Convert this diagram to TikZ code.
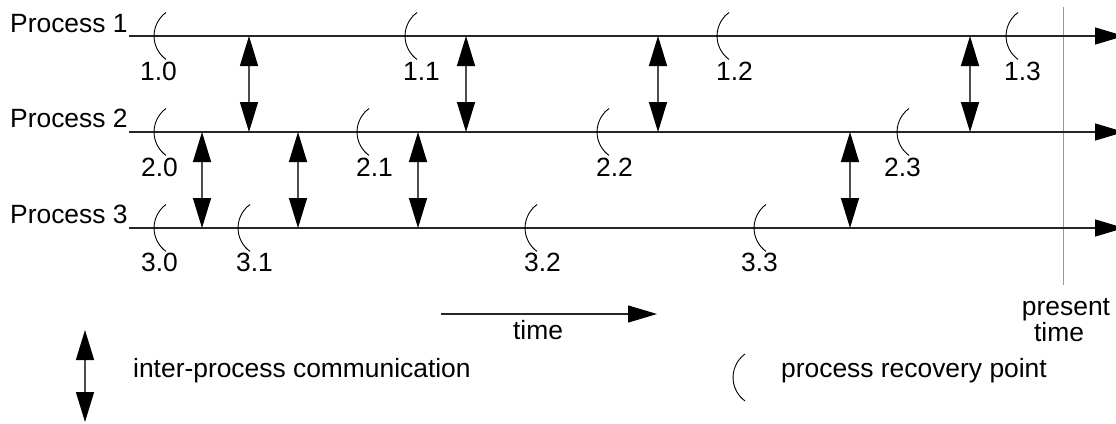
\documentclass[tikz,border=0pt]{standalone}
\usepackage{fontspec}
\setmainfont{Liberation Sans}
\usetikzlibrary{arrows.meta}
\begin{document}
\begin{tikzpicture}[x=1pt,y=-1pt,
  txt/.style={font=\fontsize{26.4}{30}\selectfont, inner sep=0pt, anchor=base west},
  ctxt/.style={font=\fontsize{26.4}{30}\selectfont, inner sep=0pt, anchor=base},
  pline/.style={line width=1.2pt, draw=black!85, -{Triangle[length=29pt,width=17pt,color=black]}},
  comm/.style={line width=1.4pt, draw=black!70, {Triangle[length=30pt,width=18pt,color=black]}-{Triangle[length=30pt,width=18pt,color=black]}},
  rp/.style={line width=0.9pt, draw=black},
  nowline/.style={line width=1pt, draw=black!40}]
\useasboundingbox (0,0) rectangle (1116,423);

% present time line
\coordinate (nowtop) at (1063,7);
\coordinate (nowbot) at (1063,285);
\draw[nowline] (nowtop) -- (nowbot);

% process lines
\node[txt] (p1) at (10,32) {Process 1};
\node[txt] (p2) at (10,127) {Process 2};
\node[txt] (p3) at (10,223) {Process 3};
\coordinate (p1s) at (129,36);  \coordinate (p1e) at (1124,36);
\coordinate (p2s) at (129,132); \coordinate (p2e) at (1124,132);
\coordinate (p3s) at (129,228); \coordinate (p3e) at (1124,228);
\draw[pline] (p1s) -- (p1e);
\draw[pline] (p2s) -- (p2e);
\draw[pline] (p3s) -- (p3e);

% recovery points
\foreach \L/\y in {154/36, 405/36, 717/36, 1006/36,
                   154/132, 357/132, 597/132, 897/132,
                   154/228, 238/228, 525/228, 754/228, 733/377.5}
  \draw[rp] (\L+12,\y-23.5) arc[start angle=234,end angle=126,radius=29];

% recovery point labels
\node[txt] (r10) at (140,80) {1.0};
\node[txt] (r11) at (403,80) {1.1};
\node[txt] (r12) at (716,80) {1.2};
\node[txt] (r13) at (1004,80) {1.3};
\node[txt] (r20) at (141,176) {2.0};
\node[txt] (r21) at (356,176) {2.1};
\node[txt] (r22) at (596,176) {2.2};
\node[txt] (r23) at (884,176) {2.3};
\node[txt] (r30) at (141,271) {3.0};
\node[txt] (r31) at (236,271) {3.1};
\node[txt] (r32) at (524,271) {3.2};
\node[txt] (r33) at (741,271) {3.3};

% communications P1-P2
\foreach \x [count=\i] in {249,466,658,970}{
  \coordinate (a\i t) at (\x,36);
  \coordinate (a\i b) at (\x,132);
  \draw[comm] (a\i t) -- (a\i b);
}
% communications P2-P3
\foreach \x [count=\i] in {202,298,418,850}{
  \coordinate (b\i t) at (\x,132);
  \coordinate (b\i b) at (\x,228);
  \draw[comm] (b\i t) -- (b\i b);
}

% time arrow
\coordinate (ts) at (441,314);
\coordinate (te) at (657,314);
\draw[pline] (ts) -- (te);
\node[ctxt] (tlabel) at (538,339) {time};

% present time label
\node[ctxt] (pres) at (1066,315) {present};
\node[ctxt] (prestime) at (1059,341) {time};

% legend
\coordinate (lt) at (85,330);
\coordinate (lb) at (85,422);
\draw[comm] (lt) -- (lb);
\node[txt] (ltext) at (133,377) {inter-process communication};
\node[txt] (rtext) at (781,377) {process recovery point};
\end{tikzpicture}
\end{document}
